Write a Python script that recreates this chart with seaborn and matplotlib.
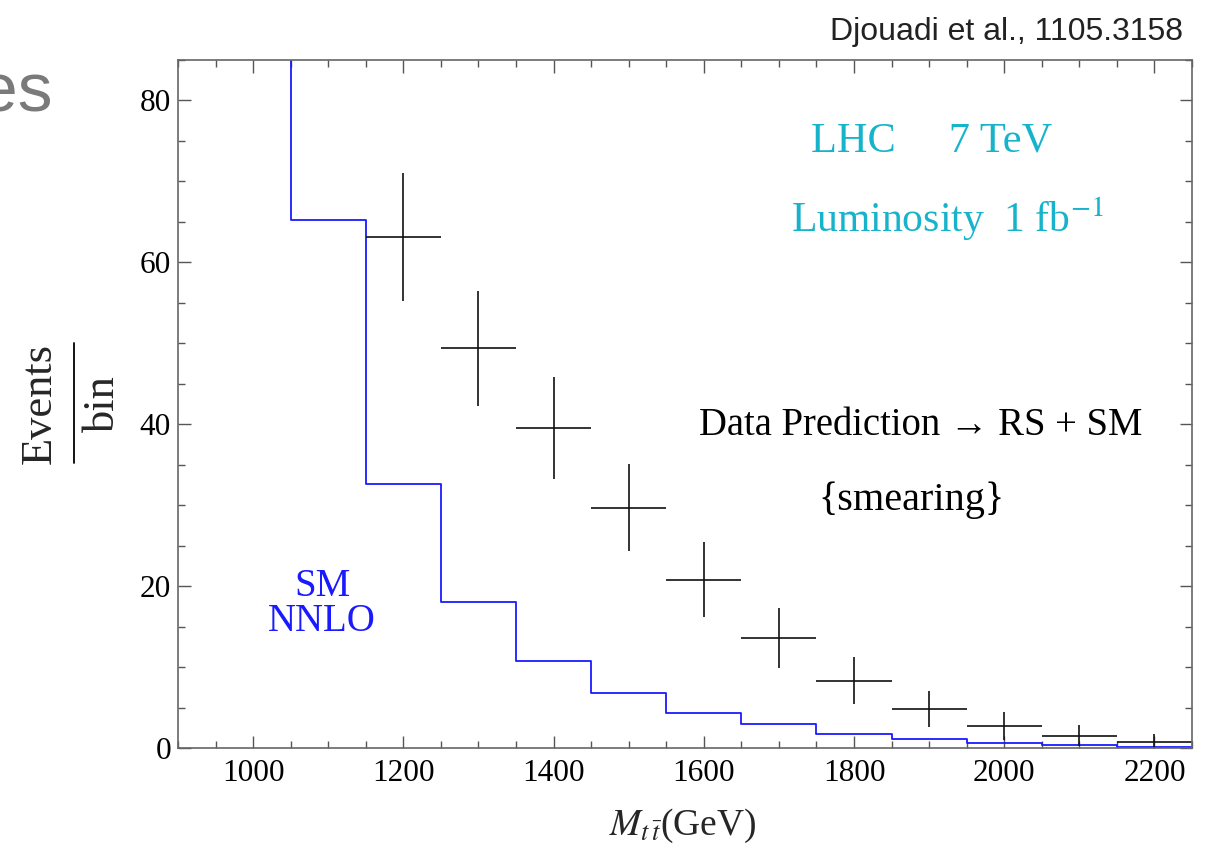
import numpy as np
import pandas as pd
import matplotlib
matplotlib.use("Agg")
import matplotlib.pyplot as plt
import seaborn as sns
from matplotlib.ticker import MultipleLocator

# ---- data ----
sm_edges = [950, 1050, 1150, 1250, 1350, 1450, 1550, 1650, 1750, 1850, 1950, 2050, 2150, 2250]
sm_values = [130, 65.2, 32.6, 18.0, 10.7, 6.8, 4.3, 3.0, 1.7, 1.1, 0.6, 0.35, 0.12]

data_x = [1200, 1300, 1400, 1500, 1600, 1700, 1800, 1900, 2000, 2100, 2200]
data_y = [63.1, 49.4, 39.5, 29.7, 20.8, 13.6, 8.3, 4.8, 2.7, 1.5, 0.7]
data_err = [7.9, 7.1, 6.3, 5.4, 4.6, 3.7, 2.9, 2.2, 1.7, 1.3, 1.0]
bin_half = 50

x_ticks = [1000, 1200, 1400, 1600, 1800, 2000, 2200]
y_ticks = [0, 20, 40, 60, 80]

sns.set_theme(style="ticks")
plt.rcParams["font.family"] = ["Liberation Serif", "DejaVu Serif"]
plt.rcParams["mathtext.fontset"] = "stix"

fig = plt.figure(figsize=(12.13, 8.5), dpi=100)
W, H = 1213, 850
ax = fig.add_axes([178 / W, 1 - 748 / H, (1192 - 178) / W, (748 - 60) / H])

# SM histogram (steps)
df_sm = pd.DataFrame({"x": sm_edges, "y": sm_values + [sm_values[-1]]})
sns.lineplot(data=df_sm, x="x", y="y", ax=ax, drawstyle="steps-post",
             color="#1a1aff", linewidth=1.3, estimator=None)

# data prediction crosses
ax.errorbar(data_x, data_y, xerr=bin_half, yerr=data_err, fmt="none",
            ecolor="#111111", elinewidth=1.2, capsize=0)

ax.set_xlim(900, 2250)
ax.set_ylim(0, 85)
ax.set_xticks(x_ticks)
ax.set_yticks(y_ticks)
ax.xaxis.set_minor_locator(MultipleLocator(50))
ax.yaxis.set_minor_locator(MultipleLocator(5))
ax.tick_params(which="both", direction="in", top=True, right=True,
               color="#555555", width=1.0, labelsize=22.5, labelcolor="black")
ax.tick_params(which="major", length=9)
ax.tick_params(which="minor", length=5)
ax.tick_params(axis="x", pad=8)
ax.tick_params(axis="y", pad=5)
for s in ax.spines.values():
    s.set_visible(True)
    s.set_color("#666666")
    s.set_linewidth(1.2)
ax.set_xlabel("")
ax.set_ylabel("")

# annotations
cyan = "#17b3cb"
ax.text(1904, 75.0, "LHC     7 TeV", color=cyan, fontsize=30.5, ha="center", va="center")
ax.text(1925, 65.3, "Luminosity  1 fb$^{-1}$", color=cyan, fontsize=30, ha="center", va="center")
ax.text(1889, 39.8, "Data Prediction \u2192 RS + SM", color="black", fontsize=27.8,
        ha="center", va="center")
ax.text(1877, 30.6, "{smearing}", color="black", fontsize=29, ha="center", va="center")
ax.text(1092, 17.8, "SM\nNNLO", color="#1a1aff", fontsize=28, ha="center", va="center",
        linespacing=0.95)

# axis labels
fig.text(683 / W, 1 - 826 / H, r"$M_{t\,\bar{t}}$(GeV)", fontsize=27, ha="center", va="center")
fig.text(40 / W, 1 - 403 / H, "Events", fontsize=32, rotation=90, ha="center", va="center")
fig.text(103 / W, 1 - 404 / H, "bin", fontsize=32, rotation=90, ha="center", va="center")
fig.add_artist(plt.Line2D([74 / W, 74 / W], [1 - 343 / H, 1 - 463 / H],
                          transform=fig.transFigure, color="black", linewidth=1.3))

# header texts
fig.text(1183 / W, 1 - 32 / H, "Djouadi et al., 1105.3158", family="Liberation Sans",
         fontsize=23, color="#222222", ha="right", va="center")
fig.text(52 / W, 1 - 112 / H, "es", family="Liberation Sans", fontsize=50,
         color="#7a7a7a", ha="right", va="baseline")

fig.savefig("out.png", dpi=100)
